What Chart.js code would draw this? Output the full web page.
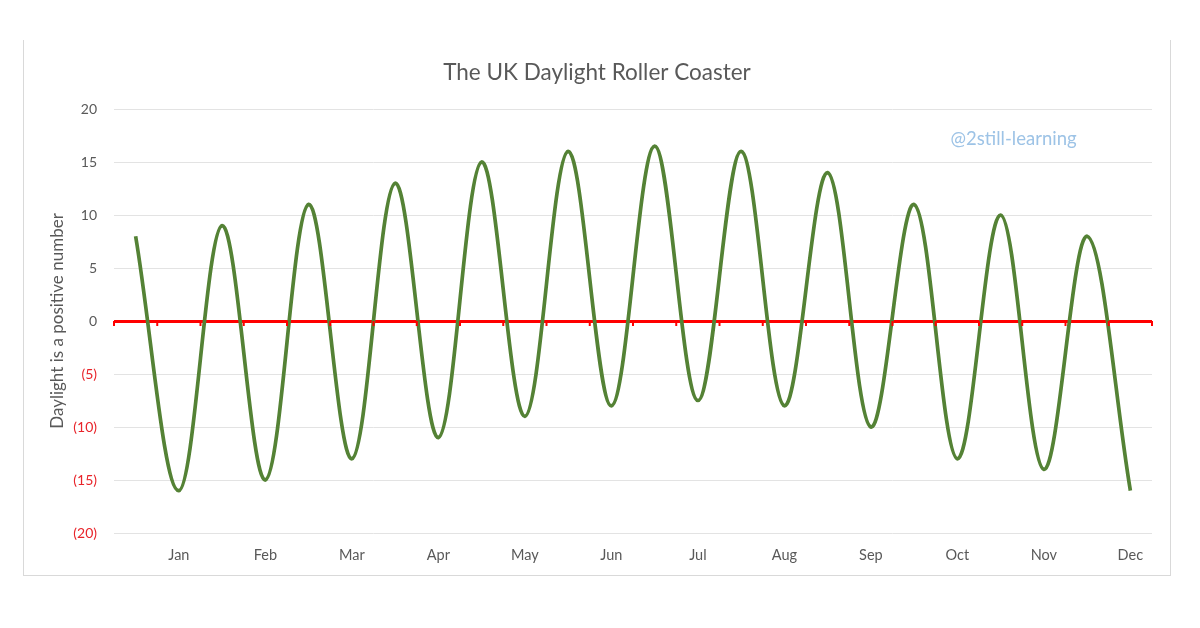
<!DOCTYPE html>
<html>
<head>
<meta charset="utf-8">
<script src="https://cdn.jsdelivr.net/npm/chart.js@4.4.0/dist/chart.umd.min.js"></script>
<style>
  html, body { margin: 0; padding: 0; background: #ffffff; }
  #wrap { position: relative; width: 1200px; height: 628px; }
  #frame {
    position: absolute; left: 23px; top: 40px; width: 1146px; height: 535px;
    border-left: 1px solid #d9d9d9; border-right: 1px solid #d9d9d9; border-bottom: 1px solid #d9d9d9;
  }
  #grafico { position: absolute; left: 0; top: 0; }
</style>
</head>
<body>
<div id="wrap">
  <div id="frame"></div>
  <canvas id="grafico" width="1200" height="628"></canvas>
</div>
<script>
// 24 half-month categories, a month name on every second one
const meses = ["", "Jan", "", "Feb", "", "Mar", "", "Apr", "", "May", "", "Jun",
               "", "Jul", "", "Aug", "", "Sep", "", "Oct", "", "Nov", "", "Dec"];
const valoresLuz = [8, -16, 9, -15, 11, -13, 13, -11, 15, -9, 16, -8,
                    16.5, -7.5, 16, -8, 14, -10, 11, -13, 10, -14, 8, -16];
const ticksY = [-20, -15, -10, -5, 0, 5, 10, 15, 20];

const corTexto = "#595959";
const corNegativo = "#e8242a";
const fonte = "Lato, 'Open Sans', sans-serif";

// red zero axis with small tick marks between categories, plus the handle text
const eixoZero = {
  id: "eixoZero",
  afterDatasetsDraw(chart) {
    const ctx = chart.ctx;
    const x = chart.scales.x;
    const y = chart.scales.y;
    const y0 = y.getPixelForValue(0);
    const passo = x.getPixelForValue(1) - x.getPixelForValue(0);
    ctx.save();
    ctx.strokeStyle = "#ff0000";
    ctx.lineWidth = 2;
    for (let i = 0; i <= meses.length; i++) {
      const px = x.getPixelForValue(0) - passo / 2 + i * passo;
      ctx.beginPath();
      ctx.moveTo(px, y0);
      ctx.lineTo(px, y0 + 5);
      ctx.stroke();
    }
    ctx.restore();
  },
  afterDraw(chart) {
    const ctx = chart.ctx;
    ctx.save();
    ctx.font = "18.5px " + fonte;
    ctx.fillStyle = "#9dc3e6";
    ctx.textAlign = "center";
    ctx.textBaseline = "middle";
    ctx.fillText("@2still-learning", chart.scales.x.getPixelForValue(20.3), chart.scales.y.getPixelForValue(17.2));
    ctx.restore();
  }
};

const config = {
  type: "line",
  data: {
    labels: meses,
    datasets: [{
      label: "Daylight",
      data: valoresLuz,
      borderColor: "#548235",
      backgroundColor: "#548235",
      borderWidth: 3.7,
      pointRadius: 0,
      tension: 0.35,
      fill: false
    }]
  },
  options: {
    animation: false,
    responsive: false,
    layout: { padding: { left: 42, right: 48, top: 0, bottom: 0 } },
    plugins: {
      legend: { display: false },
      tooltip: { enabled: false },
      title: {
        display: true,
        text: "The UK Daylight Roller Coaster",
        color: corTexto,
        font: { family: fonte, size: 22.5, weight: "normal", lineHeight: 1.2 },
        padding: { top: 59, bottom: 23 }
      }
    },
    scales: {
      x: {
        type: "category",
        offset: true,
        grid: { display: false, drawTicks: false },
        border: { display: false },
        ticks: {
          autoSkip: false,
          maxRotation: 0,
          padding: 14,
          color: corTexto,
          font: { family: fonte, size: 14.5 }
        },
        afterFit(scale) { scale.height = 95; }
      },
      y: {
        min: -20,
        max: 20,
        afterBuildTicks(scale) { scale.ticks = ticksY.map(v => ({ value: v })); },
        grid: {
          drawTicks: false,
          color: (c) => c.tick && c.tick.value === 0 ? "#ff0000" : "#e3e3e3",
          lineWidth: (c) => c.tick && c.tick.value === 0 ? 3 : 1
        },
        border: { display: false },
        ticks: {
          padding: 17,
          color: (c) => c.tick && c.tick.value < 0 ? corNegativo : corTexto,
          font: { family: fonte, size: 14 },
          callback: (v) => v < 0 ? "(" + (-v) + ")" : v
        },
        title: {
          display: true,
          text: "Daylight is a positive number",
          color: corTexto,
          font: { family: fonte, size: 17 },
          padding: { top: 5, bottom: 0 }
        },
        afterFit(scale) { scale.width = 72; }
      }
    }
  },
  plugins: [eixoZero]
};

const grafico = new Chart(document.getElementById("grafico"), config);
</script>
</body>
</html>
